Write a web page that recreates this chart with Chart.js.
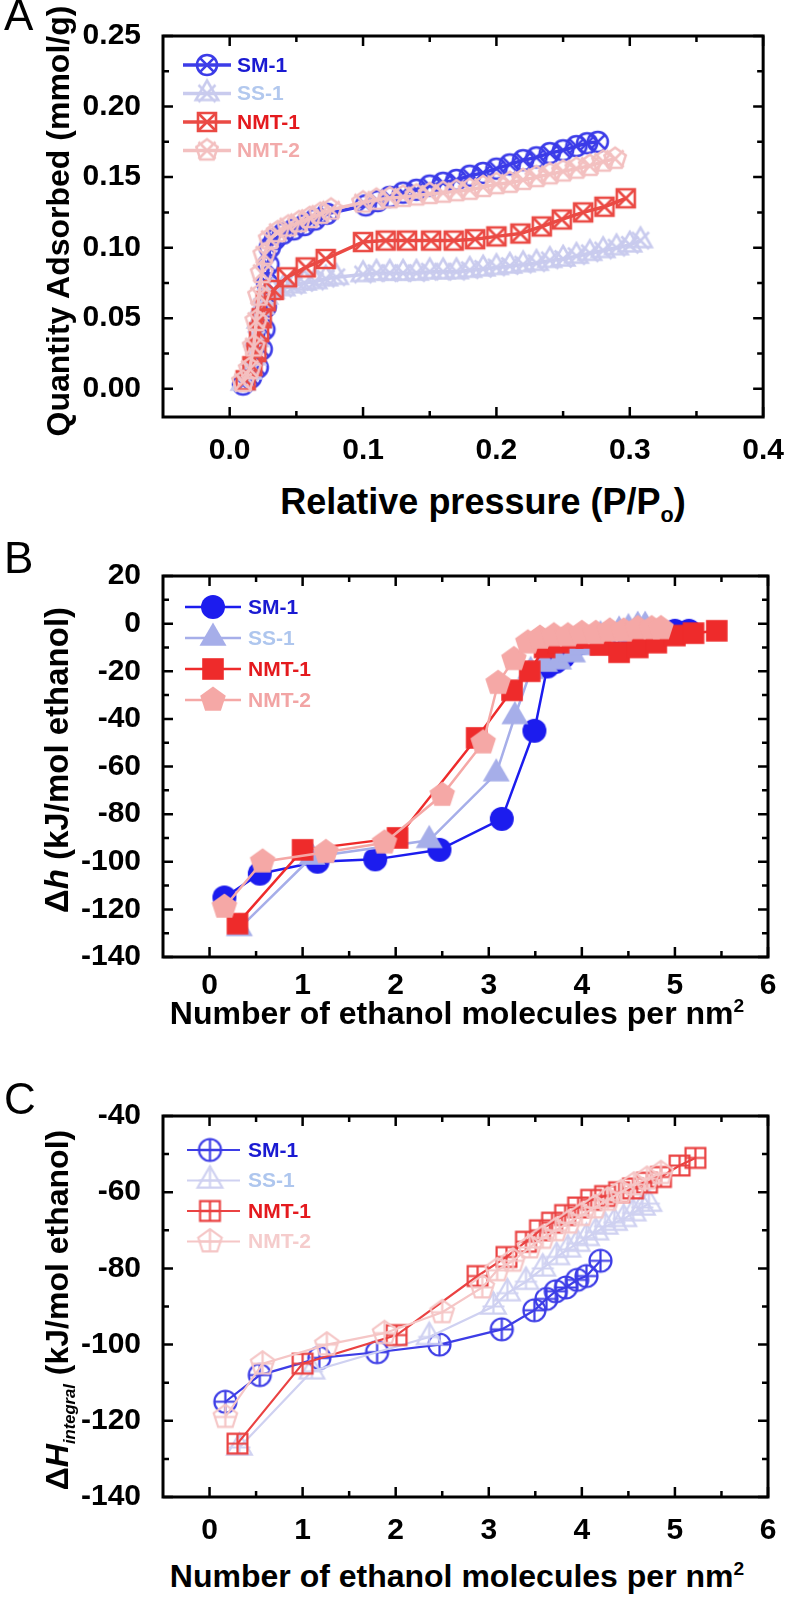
<!DOCTYPE html>
<html lang="en">
  <head>
    <meta charset="UTF-8" />
    <title>Ethanol adsorption and enthalpy</title>
    <style>
      * {
        margin: 0;
        padding: 0;
        box-sizing: border-box;
        font-family: "Liberation Sans", Arial, sans-serif;
      }
      body {
        width: 792px;
        height: 1601px;
        position: relative;
        background: #fff;
        overflow: hidden;
      }
      canvas {
        position: absolute;
        left: 0;
      }
      .letter {
        position: absolute;
        left: 4px;
        font-size: 44px;
        line-height: 44px;
        color: #000;
      }
      .ytitle {
        position: absolute;
        width: 500px;
        height: 40px;
        line-height: 40px;
        text-align: center;
        white-space: nowrap;
        font-size: 32px;
        font-weight: bold;
        transform: rotate(-90deg);
      }
      .xtitle {
        position: absolute;
        width: 640px;
        height: 40px;
        line-height: 40px;
        text-align: center;
        white-space: nowrap;
        font-size: 32px;
        font-weight: bold;
      }
      sub, sup {
        font-size: 60%;
        line-height: 0;
      }
      .small {
        font-size: 52%;
      }
    </style>
  </head>
  <body>
    <canvas id="chartA" width="792" height="460" style="top: 0px"></canvas>
    <canvas id="chartB" width="792" height="460" style="top: 540px"></canvas>
    <canvas id="chartC" width="792" height="460" style="top: 1080px"></canvas>

    <div class="letter" style="top: -7px">A</div>
    <div class="letter" style="top: 536px">B</div>
    <div class="letter" style="top: 1077px">C</div>

    <div class="ytitle" style="left: -192px; top: 201px">Quantity Adsorbed (mmol/g)</div>
    <div class="ytitle" style="left: -193px; top: 740px; font-size: 33px">&Delta;<i>h</i> (kJ/mol ethanol)</div>
    <div class="ytitle" style="left: -193px; top: 1290px">&Delta;<i>H<sub class="small">integral</sub></i> (kJ/mol ethanol)</div>

    <div class="xtitle" style="left: 163px; top: 482px; font-size: 36px">Relative pressure (P/P<sub>o</sub>)</div>
    <div class="xtitle" style="left: 137px; top: 993px">Number of ethanol molecules per nm<sup>2</sup></div>
    <div class="xtitle" style="left: 137px; top: 1556px">Number of ethanol molecules per nm<sup>2</sup></div>

    <script src="https://cdn.jsdelivr.net/npm/chart.js"></script>
    <script>
      const seriesNames = ["SM-1", "SS-1", "NMT-1", "NMT-2"];

      // ---- panel A: isotherms ----
      const pressureTicks = [0.0, 0.1, 0.2, 0.3, 0.4];
      const pressureTickLabels = ["0.0", "0.1", "0.2", "0.3", "0.4"];
      const adsorbedTicks = [0.0, 0.05, 0.1, 0.15, 0.2, 0.25];
      const adsorbedTickLabels = ["0.00", "0.05", "0.10", "0.15", "0.20", "0.25"];

      const pressureSM1 = [0.010, 0.016, 0.021, 0.024, 0.026, 0.027, 0.028, 0.029, 0.030, 0.034, 0.040, 0.048, 0.056, 0.064, 0.073, 0.102, 0.111, 0.120, 0.130, 0.140, 0.150, 0.160, 0.170, 0.180, 0.190, 0.200, 0.210, 0.220, 0.230, 0.240, 0.250, 0.260, 0.268, 0.276];
      const adsorbedSM1 = [0.003, 0.008, 0.015, 0.028, 0.042, 0.058, 0.075, 0.088, 0.100, 0.106, 0.110, 0.113, 0.116, 0.120, 0.124, 0.130, 0.133, 0.136, 0.139, 0.141, 0.144, 0.146, 0.148, 0.151, 0.153, 0.156, 0.159, 0.162, 0.164, 0.167, 0.169, 0.172, 0.174, 0.175];
      const pressureSS1 = [0.010, 0.015, 0.018, 0.020, 0.022, 0.024, 0.027, 0.032, 0.040, 0.048, 0.056, 0.064, 0.072, 0.080, 0.100, 0.110, 0.120, 0.130, 0.140, 0.150, 0.160, 0.170, 0.180, 0.190, 0.200, 0.210, 0.220, 0.230, 0.240, 0.250, 0.260, 0.270, 0.280, 0.290, 0.300, 0.308];
      const adsorbedSS1 = [0.004, 0.012, 0.022, 0.035, 0.048, 0.058, 0.065, 0.069, 0.071, 0.073, 0.075, 0.076, 0.078, 0.079, 0.081, 0.082, 0.082, 0.082, 0.082, 0.083, 0.083, 0.083, 0.084, 0.085, 0.086, 0.087, 0.088, 0.089, 0.091, 0.092, 0.094, 0.096, 0.098, 0.100, 0.102, 0.105];
      const pressureNMT1 = [0.012, 0.017, 0.020, 0.022, 0.024, 0.027, 0.033, 0.043, 0.057, 0.072, 0.100, 0.117, 0.133, 0.151, 0.168, 0.184, 0.200, 0.218, 0.234, 0.249, 0.265, 0.281, 0.297];
      const adsorbedNMT1 = [0.006, 0.016, 0.026, 0.040, 0.050, 0.062, 0.070, 0.079, 0.086, 0.092, 0.104, 0.105, 0.105, 0.105, 0.105, 0.106, 0.108, 0.110, 0.115, 0.120, 0.125, 0.129, 0.135];
      const pressureNMT2 = [0.010, 0.015, 0.018, 0.020, 0.022, 0.024, 0.026, 0.030, 0.036, 0.044, 0.052, 0.060, 0.068, 0.076, 0.100, 0.110, 0.120, 0.130, 0.140, 0.150, 0.160, 0.170, 0.180, 0.190, 0.200, 0.210, 0.220, 0.230, 0.240, 0.250, 0.260, 0.270, 0.280, 0.289];
      const adsorbedNMT2 = [0.005, 0.014, 0.030, 0.048, 0.066, 0.082, 0.095, 0.106, 0.111, 0.115, 0.118, 0.121, 0.124, 0.127, 0.132, 0.134, 0.135, 0.136, 0.137, 0.138, 0.139, 0.140, 0.141, 0.143, 0.145, 0.146, 0.148, 0.150, 0.152, 0.154, 0.156, 0.158, 0.161, 0.163];

      // ---- panels B and C: enthalpies vs loading ----
      const loadingTicks = [0, 1, 2, 3, 4, 5, 6];
      const loadingTickLabels = ["0", "1", "2", "3", "4", "5", "6"];
      const dhTicks = [-140, -120, -100, -80, -60, -40, -20, 0, 20];
      const dhTickLabels = ["-140", "-120", "-100", "-80", "-60", "-40", "-20", "0", "20"];
      const dHintTicks = [-140, -120, -100, -80, -60, -40];
      const dHintTickLabels = ["-140", "-120", "-100", "-80", "-60", "-40"];

      const loadSM1 = [0.16, 0.54, 1.16, 1.78, 2.47, 3.14, 3.49, 3.63, 3.72, 3.80, 3.90, 4.00, 4.10, 4.30, 4.50, 4.70, 5.00, 5.15];
      const dhSM1 = [-115, -105, -100, -99, -95, -82, -45, -18, -16, -14, -10, -8, -6, -5, -4, -3, -3, -3];
      const loadSS1 = [0.32, 1.10, 2.36, 3.08, 3.28, 3.45, 3.60, 3.75, 3.90, 4.00, 4.10, 4.20, 4.30, 4.40, 4.50, 4.60, 4.68];
      const dhSS1 = [-128, -98, -91, -63, -39, -20, -17, -16, -13, -10, -7, -5, -4, -3, -2, -1, -1];
      const loadNMT1 = [0.30, 1.00, 2.02, 2.87, 3.25, 3.44, 3.60, 3.75, 3.90, 4.05, 4.20, 4.40, 4.60, 4.80, 5.00, 5.20, 5.45];
      const dhNMT1 = [-126, -95, -90, -48, -28, -20, -10, -8, -6, -6, -9, -12, -10, -8, -5, -4, -3];
      const loadNMT2 = [0.16, 0.57, 1.25, 1.88, 2.50, 2.94, 3.10, 3.27, 3.42, 3.55, 3.70, 3.85, 4.00, 4.15, 4.30, 4.45, 4.60, 4.75, 4.85];
      const dhNMT2 = [-119, -100, -96, -92, -72, -50, -25, -15, -8, -6, -5, -5, -4, -4, -3, -3, -2, -2, -2];

      const intLoadSM1 = [0.17, 0.54, 1.18, 1.80, 2.47, 3.14, 3.49, 3.62, 3.72, 3.83, 3.95, 4.05, 4.20];
      const dHintSM1 = [-115, -108, -103.5, -102, -100, -96, -91, -88, -86, -85, -83, -82, -78];
      const intLoadSS1 = [0.32, 1.10, 2.36, 3.05, 3.20, 3.40, 3.58, 3.73, 3.85, 3.95, 4.05, 4.15, 4.25, 4.35, 4.45, 4.55, 4.65, 4.72];
      const dHintSS1 = [-127, -107, -98, -90, -86.5, -83.5, -80, -77, -75, -73.5, -72, -70.5, -69, -68, -67, -65.5, -64, -63];
      const intLoadNMT1 = [0.30, 1.00, 2.01, 2.88, 3.19, 3.40, 3.55, 3.68, 3.82, 3.96, 4.10, 4.25, 4.40, 4.55, 4.70, 4.85, 5.05, 5.22];
      const dHintNMT1 = [-126, -105, -97.5, -82, -77, -73, -70, -68, -66, -64, -62, -61, -60, -59, -57.5, -56, -53, -51];
      const intLoadNMT2 = [0.17, 0.57, 1.26, 1.88, 2.50, 2.93, 3.09, 3.26, 3.44, 3.58, 3.72, 3.86, 4.00, 4.14, 4.28, 4.42, 4.56, 4.70, 4.85];
      const dHintNMT2 = [-119, -105, -100, -97, -91.5, -85, -80.5, -78, -74.5, -72, -70, -68, -66, -64, -62, -60, -58, -56.5, -55];

      // ---- drawing helpers ----
      const shapes = ["circle", "triangle", "square", "pentagon"];
      const tickFont = { family: "'Liberation Sans', Arial, sans-serif", size: 30, weight: "bold" };

      function outline(g, shape, r) {
        if (shape === "circle") {
          g.arc(0, 0, r, 0, Math.PI * 2);
        } else if (shape === "square") {
          g.rect(-r * 0.9, -r * 0.9, r * 1.8, r * 1.8);
        } else {
          const n = shape === "triangle" ? 3 : 5;
          const R = shape === "triangle" ? r * 1.3 : r * 1.12;
          for (let k = 0; k < n; k++) {
            const a = -Math.PI / 2 + (k * 2 * Math.PI) / n;
            g.lineTo(R * Math.cos(a), R * Math.sin(a));
          }
          g.closePath();
        }
      }

      function makeMarker(shape, r, color, style, lw) {
        const size = Math.ceil(r * 3) + 6;
        const c = document.createElement("canvas");
        c.width = c.height = size;
        const g = c.getContext("2d");
        g.translate(size / 2, size / 2);
        g.strokeStyle = color;
        g.fillStyle = color;
        g.lineWidth = lw;
        g.beginPath();
        outline(g, shape, r);
        if (style === "filled") {
          g.fill();
          return c;
        }
        g.stroke();
        g.beginPath();
        if (style === "x") {
          const a = shape === "circle" ? r * 0.72 : shape === "square" ? r * 0.9 : r * 0.85;
          g.moveTo(-a, -a); g.lineTo(a, a);
          g.moveTo(-a, a); g.lineTo(a, -a);
        } else {
          const top = shape === "triangle" ? r * 1.3 : shape === "pentagon" ? r * 1.12 : shape === "square" ? r * 0.9 : r;
          const bot = shape === "triangle" ? r * 0.65 : shape === "pentagon" ? r * 0.9 : top;
          const side = shape === "square" ? r * 0.9 : r;
          g.moveTo(0, -top); g.lineTo(0, bot);
          g.moveTo(-side, 0); g.lineTo(side, 0);
        }
        g.stroke();
        return c;
      }

      function minorValues(ticks, min, max) {
        const out = [];
        const step = ticks[1] - ticks[0];
        for (let i = -1; i < ticks.length; i++) {
          const v = (i < 0 ? ticks[0] - step / 2 : ticks[i] + step / 2);
          if (v > min + 1e-9 && v < max - 1e-9) out.push(v);
        }
        return out;
      }

      const framePlugin = {
        id: "frameTicks",
        afterDraw(chart, args, opts) {
          const { ctx, chartArea: a, scales: { x, y } } = chart;
          ctx.save();
          ctx.strokeStyle = "#000";
          ctx.lineWidth = 2.5;
          ctx.beginPath();
          const tick = (vals, len) => {
            vals.forEach((v) => {
              const px = x.getPixelForValue(v);
              ctx.moveTo(px, a.bottom); ctx.lineTo(px, a.bottom - len);
              ctx.moveTo(px, a.top); ctx.lineTo(px, a.top + len);
            });
          };
          const ytick = (vals, len) => {
            vals.forEach((v) => {
              const py = y.getPixelForValue(v);
              ctx.moveTo(a.left, py); ctx.lineTo(a.left + len, py);
              ctx.moveTo(a.right, py); ctx.lineTo(a.right - len, py);
            });
          };
          tick(opts.xMajor, 10);
          tick(opts.xMinor, 6);
          ytick(opts.yMajor, 10);
          ytick(opts.yMinor, 6);
          ctx.stroke();
          ctx.lineWidth = 3;
          ctx.strokeRect(a.left, a.top, a.right - a.left, a.bottom - a.top);
          ctx.restore();
        },
      };

      const legendPlugin = {
        id: "insideLegend",
        afterDraw(chart, args, opts) {
          const ctx = chart.ctx;
          ctx.save();
          ctx.font = "bold 21px 'Liberation Sans', Arial, sans-serif";
          ctx.textBaseline = "middle";
          chart.data.datasets.forEach((ds, i) => {
            const y = opts.y0 + i * opts.dy;
            ctx.strokeStyle = ds.borderColor;
            ctx.lineWidth = ds.borderWidth;
            ctx.beginPath();
            ctx.moveTo(opts.x0, y);
            ctx.lineTo(opts.x1, y);
            ctx.stroke();
            const m = ds.pointStyle;
            ctx.drawImage(m, opts.mx - m.width / 2, y - m.height / 2);
            ctx.fillStyle = opts.textColors[i];
            ctx.fillText(ds.label, opts.tx, y + 1);
          });
          ctx.restore();
        },
      };

      function makeChart(p) {
        const datasets = seriesNames.map((name, i) => ({
          label: name,
          data: p.xs[i].map((v, j) => ({ x: v, y: p.ys[i][j] })),
          showLine: true,
          borderColor: p.colors[i],
          backgroundColor: p.colors[i],
          borderWidth: p.lineWidth,
          pointStyle: makeMarker(shapes[i], p.r, p.colors[i], p.style, p.markerLw),
          pointRadius: p.r,
          order: 4 - i,
        }));
        return new Chart(document.getElementById(p.id), {
          type: "scatter",
          data: { datasets },
          options: {
            responsive: false,
            animation: false,
            devicePixelRatio: 1,
            layout: { padding: { top: 36, right: p.padRight, left: 0, bottom: 0 } },
            plugins: {
              legend: { display: false },
              tooltip: { enabled: false },
              frameTicks: {
                xMajor: p.xTicks,
                xMinor: minorValues(p.xTicks, p.xMin, p.xMax),
                yMajor: p.yTicks,
                yMinor: minorValues(p.yTicks, p.yMin, p.yMax),
              },
              insideLegend: p.legend,
            },
            scales: {
              x: {
                type: "linear",
                min: p.xMin,
                max: p.xMax,
                grid: { display: false },
                border: { display: false },
                ticks: {
                  font: tickFont,
                  color: "#000",
                  padding: p.xPad,
                  maxRotation: 0,
                  autoSkip: false,
                  callback: (v, i) => p.xLabels[i],
                },
                afterBuildTicks: (s) => { s.ticks = p.xTicks.map((v) => ({ value: v })); },
                afterFit: (s) => { s.height = 43; },
              },
              y: {
                type: "linear",
                min: p.yMin,
                max: p.yMax,
                grid: { display: false },
                border: { display: false },
                ticks: {
                  font: tickFont,
                  color: "#000",
                  padding: 14,
                  autoSkip: false,
                  callback: (v, i) => p.yLabels[i],
                },
                afterBuildTicks: (s) => { s.ticks = p.yTicks.map((v) => ({ value: v })); },
                afterFit: (s) => { s.width = 163; },
              },
            },
          },
          plugins: [framePlugin, legendPlugin],
        });
      }

      makeChart({
        id: "chartA",
        xs: [pressureSM1, pressureSS1, pressureNMT1, pressureNMT2],
        ys: [adsorbedSM1, adsorbedSS1, adsorbedNMT1, adsorbedNMT2],
        xMin: -0.05, xMax: 0.4, xTicks: pressureTicks, xLabels: pressureTickLabels,
        yMin: -0.02, yMax: 0.25, yTicks: adsorbedTicks, yLabels: adsorbedTickLabels,
        colors: ["#3c3ce8", "#c9cbee", "#ea4a44", "#f3c0c0"],
        style: "x", r: 10, markerLw: 2.6, lineWidth: 3.5, padRight: 26, xPad: 8,
        legend: { x0: 183, x1: 231, mx: 207, tx: 237, y0: 65, dy: 28.5,
          textColors: ["#1a1ad2", "#b2c8ee", "#e41a1e", "#f2aaaa"] },
      });

      makeChart({
        id: "chartB",
        xs: [loadSM1, loadSS1, loadNMT1, loadNMT2],
        ys: [dhSM1, dhSS1, dhNMT1, dhNMT2],
        xMin: -0.5, xMax: 6, xTicks: loadingTicks, xLabels: loadingTickLabels,
        yMin: -140, yMax: 20, yTicks: dhTicks, yLabels: dhTickLabels,
        colors: ["#1c1cee", "#a6aee9", "#ee2b2b", "#f5a8a6"],
        style: "filled", r: 12, markerLw: 1, lineWidth: 2.5, padRight: 24, xPad: 3,
        legend: { x0: 185, x1: 241, mx: 213, tx: 248, y0: 67, dy: 31,
          textColors: ["#1a1ad2", "#aec6ee", "#e41a1e", "#f2a4a4"] },
      });

      makeChart({
        id: "chartC",
        xs: [intLoadSM1, intLoadSS1, intLoadNMT1, intLoadNMT2],
        ys: [dHintSM1, dHintSS1, dHintNMT1, dHintNMT2],
        xMin: -0.5, xMax: 6, xTicks: loadingTicks, xLabels: loadingTickLabels,
        yMin: -140, yMax: -40, yTicks: dHintTicks, yLabels: dHintTickLabels,
        colors: ["#3d3de6", "#cfd1f1", "#ea4242", "#f5c6c6"],
        style: "plus", r: 11, markerLw: 2.2, lineWidth: 2.2, padRight: 24, xPad: 8,
        legend: { x0: 187, x1: 240, mx: 210, tx: 248, y0: 70, dy: 30.5,
          textColors: ["#1a1ad2", "#aec6ee", "#e41a1e", "#f5cccc"] },
      });
    </script>
  </body>
</html>
